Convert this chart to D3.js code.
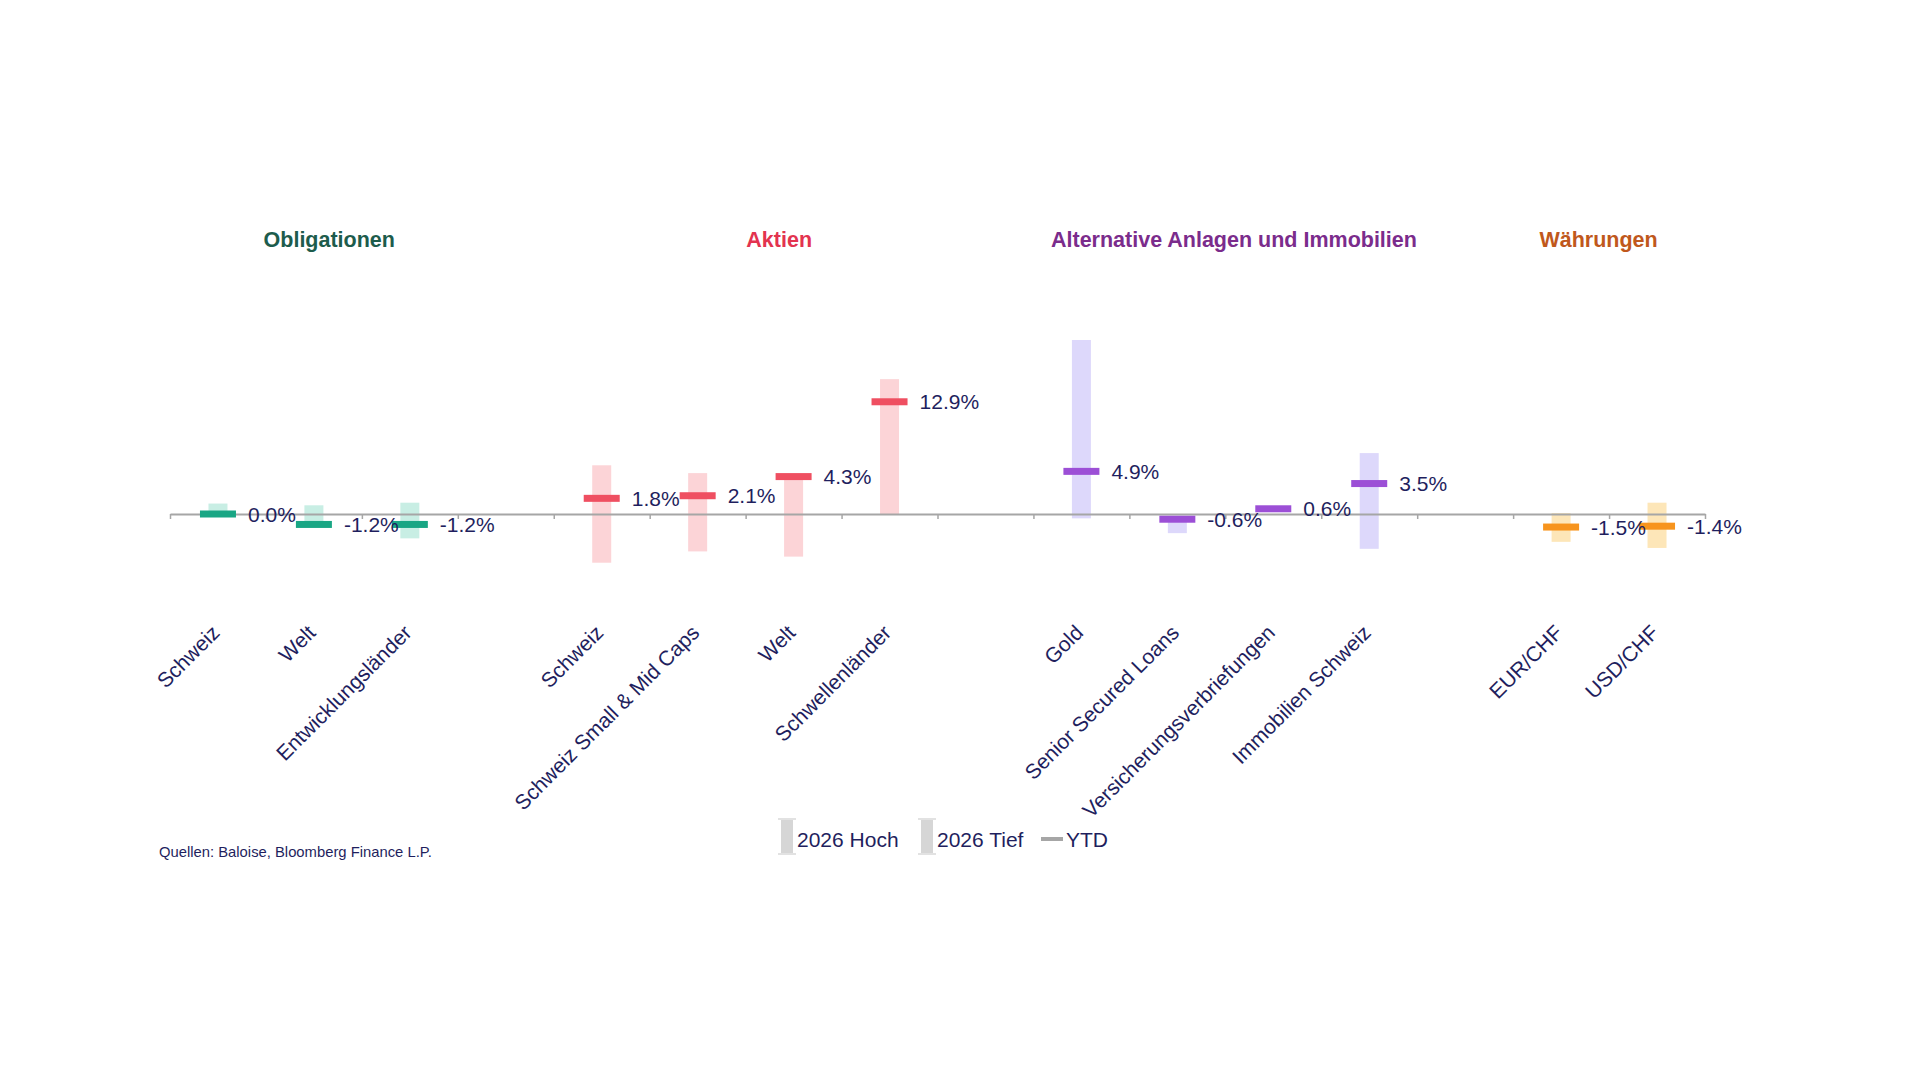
<!DOCTYPE html>
<html>
<head>
<meta charset="utf-8">
<script src="https://cdn.jsdelivr.net/npm/d3@7"></script>
<style>
  html, body { margin: 0; padding: 0; background: #fff; }
  svg { display: block; font-family: Arial, "Liberation Sans", sans-serif; }
</style>
</head>
<body>
<svg id="chart" width="1920" height="1080"></svg>
<script>
// Kategorien (leere Einträge = Lücke zwischen Gruppen)
const categories = ["Schweiz", "Welt", "Entwicklungsländer", "",
  "Schweiz", "Schweiz Small & Mid Caps", "Welt", "Schwellenländer", "",
  "Gold", "Senior Secured Loans", "Versicherungsverbriefungen", "Immobilien Schweiz", "",
  "EUR/CHF", "USD/CHF"];
const groupOf = [0, 0, 0, null, 1, 1, 1, 1, null, 2, 2, 2, 2, null, 3, 3];

const groups = ["Obligationen", "Aktien", "Alternative Anlagen und Immobilien", "Währungen"];
const groupPos = [1.66, 6.35, 11.09, 14.89]; // Titelposition in Kategorie-Einheiten

const ytd  = [0.0, -1.2, -1.2, null, 1.8, 2.1, 4.3, 12.9, null, 4.9, -0.6, 0.6, 3.5, null, -1.5, -1.4];
const high = [1.2, 1.0, 1.3, null, 5.6, 4.7, 4.5, 15.5, null, 20.0, -0.3, 0.7, 7.0, null, 0.1, 1.3];
const low  = [-0.1, -1.3, -2.8, null, -5.6, -4.3, -4.9, 0.0, null, -0.5, -2.2, 0.4, -4.0, null, -3.2, -3.9];

const legendItems = ["2026 Hoch", "2026 Tief", "YTD"];

const ytdColors   = ["#19a684", "#ef4f61", "#9c4fd6", "#f7941d"];
const rangeColors = ["#c8eee4", "#fcd4d7", "#ddd8fb", "#fde6b8"];
const titleColors = ["#1d5c4c", "#e3334f", "#7b2c8c", "#c0581c"];
const navy = "#1f1f5e";

const svg = d3.select("#chart");

const x = d3.scaleBand()
  .domain(d3.range(categories.length))
  .range([170, 1705])
  .paddingInner(0)
  .paddingOuter(0);

const xIdx = d3.scaleLinear()
  .domain([0, categories.length])
  .range([170, 1705]);

const y = d3.scaleLinear()
  .domain([-10, 25])
  .range([514 + 87, 514 - 217.5]);

const pct = v => d3.format(".1f")(v).replace("\u2212", "-") + "%";

const data = categories.map((c, i) => ({
  i, name: c, g: groupOf[i], ytd: ytd[i], high: high[i], low: low[i]
})).filter(d => d.g !== null);

// Spannweite (Tief bis Hoch)
svg.append("g")
  .selectAll("rect")
  .data(data)
  .join("rect")
  .attr("x", d => x(d.i) + x.bandwidth() / 2 - 9.5)
  .attr("width", 19)
  .attr("y", d => y(d.high))
  .attr("height", d => y(d.low) - y(d.high))
  .attr("fill", d => rangeColors[d.g]);

// Achse
const axis = svg.append("g")
  .attr("transform", `translate(0,${y(0)})`)
  .call(d3.axisBottom(xIdx)
    .tickValues(d3.range(categories.length + 1))
    .tickFormat("")
    .tickSize(5)
    .tickSizeOuter(0));
axis.select(".domain").attr("stroke", "#a6a6a6").attr("stroke-width", 2);
axis.selectAll(".tick line").attr("stroke", "#a6a6a6").attr("stroke-width", 1.5);

// YTD Marker
svg.append("g")
  .selectAll("rect")
  .data(data)
  .join("rect")
  .attr("x", d => x(d.i) + x.bandwidth() / 2 - 18)
  .attr("width", 36)
  .attr("y", d => y(d.ytd) - 3.5)
  .attr("height", 7)
  .attr("fill", d => ytdColors[d.g]);

// Werte
svg.append("g")
  .selectAll("text")
  .data(data)
  .join("text")
  .attr("x", d => x(d.i) + x.bandwidth() / 2 + 30)
  .attr("y", d => y(d.ytd))
  .attr("dy", "0.36em")
  .attr("font-size", 21)
  .attr("fill", navy)
  .text(d => pct(d.ytd));

// Kategorie-Beschriftungen
svg.append("g")
  .selectAll("text")
  .data(data)
  .join("text")
  .attr("transform", d => `translate(${x(d.i) + x.bandwidth() / 2 + 3},634) rotate(-45)`)
  .attr("text-anchor", "end")
  .attr("font-size", 21)
  .attr("fill", navy)
  .text(d => d.name);

// Gruppentitel
svg.append("g")
  .selectAll("text")
  .data(groups)
  .join("text")
  .attr("x", (d, i) => xIdx(groupPos[i]))
  .attr("y", 247)
  .attr("text-anchor", "middle")
  .attr("font-size", 21.5)
  .attr("font-weight", "bold")
  .attr("fill", (d, i) => titleColors[i])
  .text(d => d);

// Legende
const legend = svg.append("g").attr("transform", "translate(781,818)");
const legX = [0, 140];
legendItems.slice(0, 2).forEach((t, i) => {
  const g = legend.append("g").attr("transform", `translate(${legX[i]},0)`);
  g.append("rect").attr("x", 0).attr("y", 0).attr("width", 12).attr("height", 37).attr("fill", "#d6d6d6");
  g.append("rect").attr("x", -3).attr("y", 0).attr("width", 18).attr("height", 2).attr("fill", "#e2e2e2");
  g.append("rect").attr("x", -3).attr("y", 35).attr("width", 18).attr("height", 2).attr("fill", "#e2e2e2");
  g.append("text").attr("x", 16).attr("y", 21).attr("dy", "0.36em")
    .attr("font-size", 21).attr("fill", navy).text(t);
});
legend.append("rect").attr("x", 260).attr("y", 19).attr("width", 22).attr("height", 4).attr("fill", "#a6a6a6");
legend.append("text").attr("x", 285).attr("y", 21).attr("dy", "0.36em")
  .attr("font-size", 21).attr("fill", navy).text(legendItems[2]);

// Quelle
svg.append("text")
  .attr("x", 159)
  .attr("y", 857)
  .attr("font-size", 14.8)
  .attr("fill", navy)
  .text("Quellen: Baloise, Bloomberg Finance L.P.");
</script>
</body>
</html>
